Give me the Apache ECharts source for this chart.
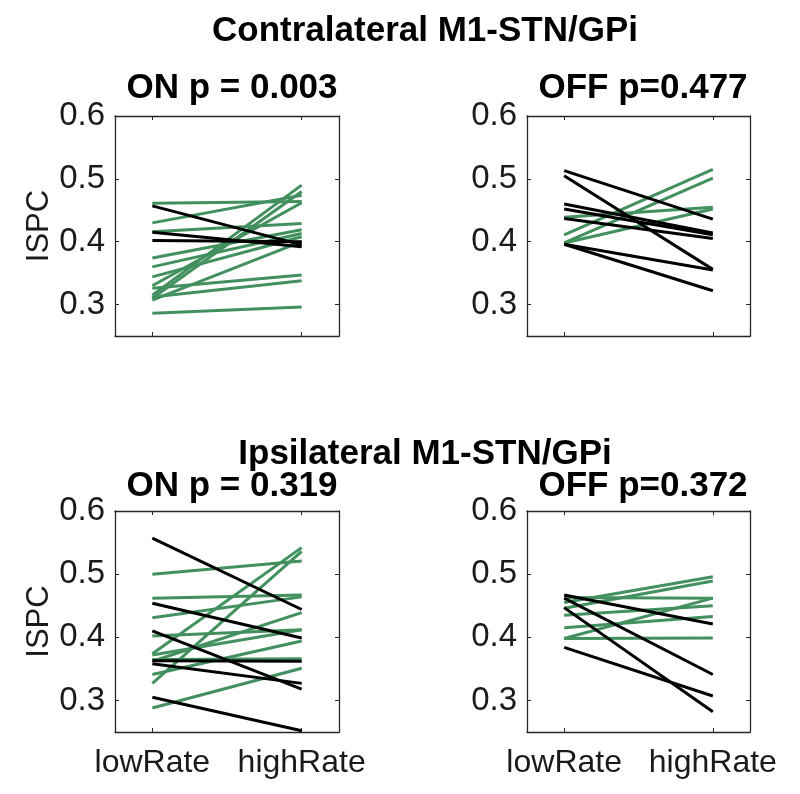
<!DOCTYPE html>
<html>
<head>
<meta charset="utf-8">
<script src="https://cdn.jsdelivr.net/npm/echarts@6/dist/echarts.min.js"></script>
<style>
  html, body { margin: 0; padding: 0; background: #fff; }
  #chart { width: 800px; height: 794px; }
</style>
</head>
<body>
<div id="chart"></div>
<script>
// x categories and y ticks
const conditions = ['lowRate', 'highRate'];
const yTicks = [0.3, 0.4, 0.5, 0.6];

// Contralateral, ON
const conOnGreenLow  = [0.461, 0.430, 0.416, 0.374, 0.360, 0.344, 0.326, 0.315, 0.310, 0.307, 0.312, 0.286, 0.330];
const conOnGreenHigh = [0.464, 0.474, 0.429, 0.419, 0.413, 0.408, 0.347, 0.490, 0.480, 0.400, 0.338, 0.296, 0.462];
const conOnBlackLow  = [0.457, 0.415, 0.402];
const conOnBlackHigh = [0.395, 0.392, 0.400];

// Contralateral, OFF
const conOffGreenLow  = [0.411, 0.398, 0.439, 0.398];
const conOffGreenHigh = [0.515, 0.501, 0.455, 0.452];
const conOffBlackLow  = [0.513, 0.505, 0.460, 0.452, 0.437, 0.396, 0.396];
const conOffBlackHigh = [0.436, 0.356, 0.414, 0.411, 0.405, 0.355, 0.322];

// Ipsilateral, ON
const ipsOnGreenLow  = [0.500, 0.462, 0.431, 0.402, 0.374, 0.327, 0.362, 0.341, 0.365, 0.288, 0.372];
const ipsOnGreenHigh = [0.521, 0.467, 0.464, 0.412, 0.542, 0.536, 0.439, 0.394, 0.366, 0.351, 0.412];
const ipsOnBlackLow  = [0.557, 0.454, 0.410, 0.363, 0.358, 0.305];
const ipsOnBlackHigh = [0.444, 0.399, 0.318, 0.362, 0.327, 0.252];

// Ipsilateral, OFF
const ipsOffGreenLow  = [0.463, 0.455, 0.446, 0.435, 0.415, 0.398, 0.398];
const ipsOffGreenHigh = [0.462, 0.496, 0.489, 0.450, 0.433, 0.399, 0.462];
const ipsOffBlackLow  = [0.467, 0.462, 0.447, 0.384];
const ipsOffBlackHigh = [0.421, 0.341, 0.282, 0.307];

const titles = ['Contralateral M1-STN/GPi', 'Ipsilateral M1-STN/GPi'];
const panelTitles = ['ON p = 0.003', 'OFF p=0.477', 'ON p = 0.319', 'OFF p=0.372'];

const GREEN = '#43905f';
const BLACK = '#000000';
const AXIS = '#262626';
const FONT = 'Liberation Sans, Arial, sans-serif';

const panels = [
  { green: [conOnGreenLow, conOnGreenHigh], black: [conOnBlackLow, conOnBlackHigh], grid: { left: 115, top: 116, width: 224, height: 220 }, yName: true, xLabels: false },
  { green: [conOffGreenLow, conOffGreenHigh], black: [conOffBlackLow, conOffBlackHigh], grid: { left: 527, top: 116, width: 223, height: 220 }, yName: false, xLabels: false },
  { green: [ipsOnGreenLow, ipsOnGreenHigh], black: [ipsOnBlackLow, ipsOnBlackHigh], grid: { left: 115, top: 511, width: 224, height: 221 }, yName: true, xLabels: true },
  { green: [ipsOffGreenLow, ipsOffGreenHigh], black: [ipsOffBlackLow, ipsOffBlackHigh], grid: { left: 527, top: 511, width: 223, height: 221 }, yName: false, xLabels: true }
];

const grid = [], xAxis = [], yAxis = [], series = [];
panels.forEach((p, i) => {
  grid.push(Object.assign({ show: false }, p.grid));
  const tick = { show: true, inside: true, length: 4, lineStyle: { color: AXIS, width: 1 } };
  const line = { show: true, onZero: false, lineStyle: { color: AXIS, width: 1.3 } };
  // bottom x axis
  xAxis.push({
    type: 'value', gridIndex: i, min: 0.75, max: 2.25, position: 'bottom',
    axisLine: line, splitLine: { show: false },
    axisTick: Object.assign({ customValues: [1, 2] }, tick),
    axisLabel: {
      show: p.xLabels, customValues: [1, 2], margin: 15,
      fontSize: 32, fontFamily: FONT, color: '#1a1a1a',
      formatter: v => conditions[Math.round(v) - 1]
    }
  });
  // top mirror x axis
  xAxis.push({
    type: 'value', gridIndex: i, min: 0.75, max: 2.25, position: 'top',
    axisLine: line, splitLine: { show: false },
    axisTick: Object.assign({ customValues: [1, 2] }, tick),
    axisLabel: { show: false }
  });
  // left y axis
  yAxis.push({
    type: 'value', gridIndex: i, min: 0.25, max: 0.6, position: 'left',
    name: p.yName ? 'ISPC' : '', nameLocation: 'middle', nameGap: 57, nameRotate: 90,
    nameTextStyle: { fontSize: 31, fontFamily: FONT, color: '#1a1a1a' },
    axisLine: line, splitLine: { show: false },
    axisTick: Object.assign({ customValues: yTicks }, tick),
    axisLabel: {
      customValues: yTicks, margin: 10,
      fontSize: 33, fontFamily: FONT, color: '#1a1a1a',
      formatter: v => v.toFixed(1)
    }
  });
  // right mirror y axis
  yAxis.push({
    type: 'value', gridIndex: i, min: 0.25, max: 0.6, position: 'right',
    axisLine: line, splitLine: { show: false },
    axisTick: Object.assign({ customValues: yTicks }, tick),
    axisLabel: { show: false }
  });

  const addLines = (pair, color) => {
    pair[0].forEach((low, k) => {
      series.push({
        type: 'line', xAxisIndex: 2 * i, yAxisIndex: 2 * i,
        data: [[1, low], [2, pair[1][k]]],
        symbol: 'none', silent: true,
        lineStyle: { color: color, width: 3 }
      });
    });
  };
  addLines(p.green, GREEN);
  addLines(p.black, BLACK);
});

const titleStyle = { fontSize: 35, fontWeight: 'bold', fontFamily: FONT, color: '#000' };
const title = [
  { text: titles[0], left: 420, top: 9, textAlign: 'center', textStyle: titleStyle },
  { text: panelTitles[0], left: 227, top: 66, textAlign: 'center', textStyle: titleStyle },
  { text: panelTitles[1], left: 638, top: 66, textAlign: 'center', textStyle: titleStyle },
  { text: titles[1], left: 420, top: 432, textAlign: 'center', textStyle: titleStyle },
  { text: panelTitles[2], left: 227, top: 464, textAlign: 'center', textStyle: titleStyle },
  { text: panelTitles[3], left: 638, top: 464, textAlign: 'center', textStyle: titleStyle }
];

const chart = echarts.init(document.getElementById('chart'));
chart.setOption({
  animation: false,
  backgroundColor: '#fff',
  title: title,
  grid: grid,
  xAxis: xAxis,
  yAxis: yAxis,
  series: series
});
</script>
</body>
</html>
